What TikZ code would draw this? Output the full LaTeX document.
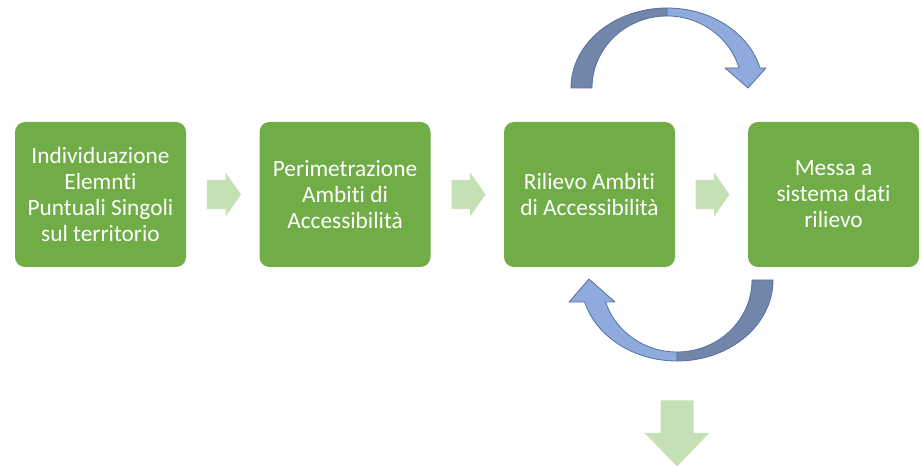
\documentclass[tikz,border=0pt]{standalone}
\usepackage{fontspec}
\setmainfont{Carlito}[Ligatures={NoCommon}]
\usetikzlibrary{shapes.arrows,calc}

\definecolor{stepgreen}{RGB}{112,173,71}
\definecolor{pastgreen}{RGB}{197,224,180}
\definecolor{loopdark}{RGB}{114,134,170}
\definecolor{looplight}{RGB}{143,170,220}
\definecolor{loopedge}{RGB}{84,112,160}

\tikzset{every picture/.style={line width=0.75pt}}
\tikzset{
  stepbox/.style={rectangle, rounded corners=7.5pt, fill=stepgreen, draw=none,
    minimum width=128.25pt, minimum height=108.75pt, inner sep=0pt,
    text=white, align=center, font=\fontsize{17.5}{19.5}\selectfont},
  flowarrow/.style={single arrow, fill=pastgreen, draw=none, inner xsep=0pt, inner ysep=10.5pt,
    anchor=tail, minimum height=25.5pt, minimum width=32.25pt,
    single arrow head extend=5.6pt, single arrow tip angle=110},
  downarrow/.style={single arrow, fill=pastgreen, draw=none, inner xsep=0pt, inner ysep=12pt,
    anchor=tail, rotate=270, minimum height=49.5pt, minimum width=48pt,
    single arrow head extend=12pt, single arrow tip angle=88},
  looparrow/.style={draw=loopedge, line width=0.6pt, line join=round}
}

\begin{document}
\begin{tikzpicture}[x=0.75pt,y=0.75pt,yscale=-1,xscale=1]
\useasboundingbox (0,0) rectangle (922,466);

% Steps
\node [stepbox] (ind) at (100.5,194.5) {Individuazione\\Elemnti\\Puntuali Singoli\\sul territorio};
\node [stepbox] (per) at (345,194.5) {Perimetrazione\\Ambiti di\\Accessibilità};
\node [stepbox] (ril) at (589.5,194.5) {Rilievo Ambiti\\di Accessibilità};
\node [stepbox] (mes) at (833.5,194.5) {Messa a\\sistema dati\\rilievo};

% Block arrows between steps
\node [flowarrow] (f1) at ($(ind.east)+(20,0)$) {};
\node [flowarrow] (f2) at ($(per.east)+(20,0)$) {};
\node [flowarrow] (f3) at ($(ril.east)+(19.5,0)$) {};

%Shape: Curved arrow, top (left half)
\draw [looparrow, fill=loopdark] (571,88) arc [start angle=180, end angle=270, x radius=96, y radius=80]
  -- (667,16) arc [start angle=270, end angle=180, x radius=75, y radius=72] -- cycle ;
%Shape: Curved arrow, top (right half)
\draw [looparrow, fill=looplight] (667,8) arc [start angle=270, end angle=345.5, x radius=96, y radius=80]
  -- (766,68) -- (748,88) -- (725,68) -- (739,68)
  arc [start angle=343.9, end angle=270, x radius=75, y radius=72] -- cycle ;

%Shape: Curved arrow, bottom (right half)
\draw [looparrow, fill=loopdark] (773,280) arc [start angle=0, end angle=90, x radius=96, y radius=81]
  -- (677,352) arc [start angle=90, end angle=0, x radius=75, y radius=72] -- cycle ;
%Shape: Curved arrow, bottom (left half)
\draw [looparrow, fill=looplight] (677,361) arc [start angle=90, end angle=164.2, x radius=96, y radius=81]
  -- (569,302) -- (589,279) -- (615,302) -- (605.6,302)
  arc [start angle=162.2, end angle=90, x radius=75, y radius=72] -- cycle ;

% Block arrow down
\node [downarrow] (down) at (677,400) {};

\end{tikzpicture}
\end{document}
